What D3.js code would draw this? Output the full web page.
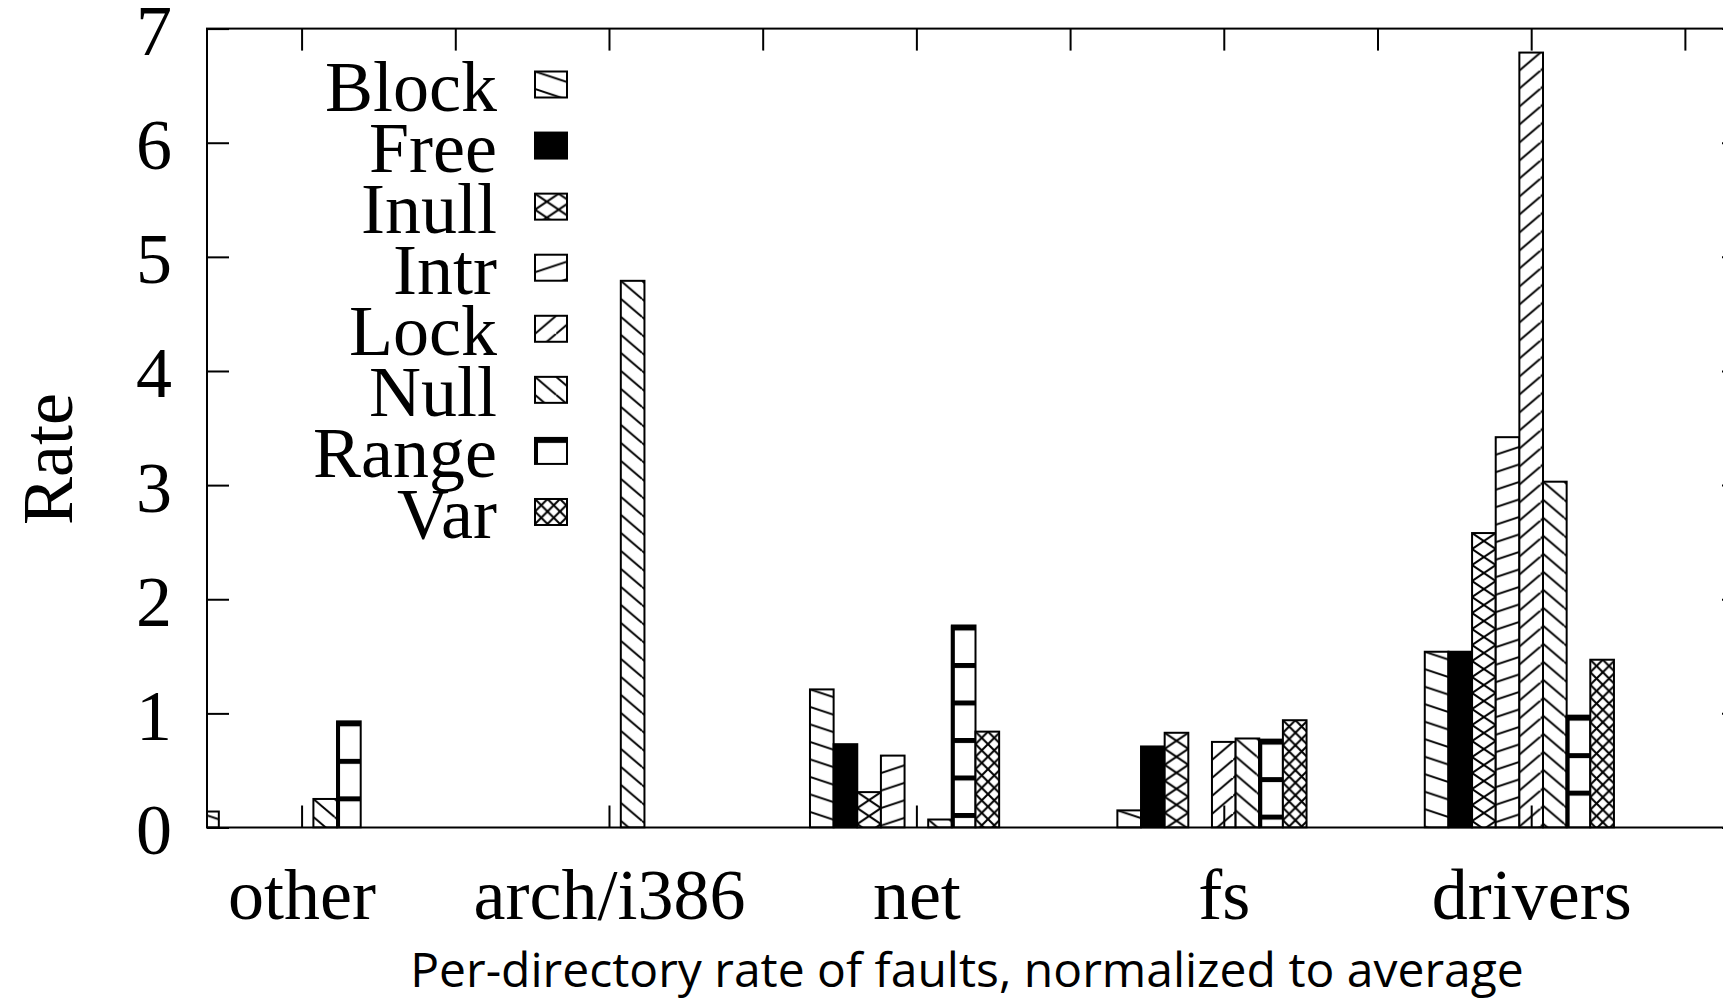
<!DOCTYPE html>
<html>
<head>
<meta charset="utf-8">
<script src="https://cdn.jsdelivr.net/npm/d3@7"></script>
<style>
  html, body { margin: 0; padding: 0; background: #fff; }
  svg { display: block; }
</style>
</head>
<body>
<svg id="chart" width="1723" height="1003"></svg>
<script>
// ---------------- data ----------------
const categories = ["other", "arch/i386", "net", "fs", "drivers"];
const seriesNames = ["Block", "Free", "Inull", "Intr", "Lock", "Null", "Range", "Var"];
const blockValues = [0.14, 0, 1.21, 0.15, 1.54];
const freeValues  = [0, 0, 0.73, 0.71, 1.54];
const inullValues = [0, 0, 0.31, 0.83, 2.58];
const intrValues  = [0, 0, 0.63, 0, 3.42];
const lockValues  = [0, 0, 0, 0.75, 6.79];
const nullValues  = [0.25, 4.79, 0.07, 0.78, 3.03];
const rangeValues = [0.93, 0, 1.77, 0.77, 0.98];
const varValues   = [0, 0, 0.84, 0.94, 1.47];
const yTicks = [0, 1, 2, 3, 4, 5, 6, 7];
const yLabel = "Rate";
const xTitle = "Per-directory rate of faults, normalized to average";

const seriesValues = [blockValues, freeValues, inullValues, intrValues,
                      lockValues, nullValues, rangeValues, varValues];

// ---------------- layout ----------------
const svg = d3.select("#chart");
const L = 207, R = 1744, T = 28.6, B = 827.5;
const stride = seriesNames.length + 5; // bars per group incl. gap
const x = d3.scaleLinear().domain([0, stride * categories.length]).range([L, R]);
const y = d3.scaleLinear().domain([0, 7]).range([B, T]);
const bw = x(1) - x(0);
const serif = "'Liberation Serif', 'Times New Roman', serif";

const defs = svg.append("defs");
defs.append("clipPath").attr("id", "plotclip")
  .append("rect").attr("x", L).attr("y", T - 1).attr("width", R - L).attr("height", B - T + 2);

// pattern builder
function lineFamily(g, s, d, dir) {
  // dir = +1 descending "\" , -1 ascending "/"
  const Wt = d / s;
  for (let k = -1; k <= 1; k++) {
    const y0 = k * d;
    g.append("line")
      .attr("x1", 0).attr("y1", y0)
      .attr("x2", Wt).attr("y2", y0 + dir * d)
      .attr("stroke", "#000").attr("stroke-width", 2);
  }
}
const patSpec = {
  Block: { w: 17.5 / 0.33, h: 17.5, draw: g => lineFamily(g, 0.33, 17.5, 1) },
  Free:  null,
  Inull: { w: bw, h: 16, draw: g => { lineFamily(g, 16 / bw, 16, 1); lineFamily(g, 16 / bw, 16, -1); } },
  Intr:  { w: 17.5 / 0.33, h: 17.5, draw: g => lineFamily(g, 0.33, 17.5, -1) },
  Lock:  { w: 18 / 0.85, h: 18, draw: g => lineFamily(g, 0.85, 18, -1) },
  Null:  { w: 18 / 0.85, h: 18, draw: g => lineFamily(g, 0.85, 18, 1) },
  Range: { w: 40, h: 37.5, draw: g => {
            g.append("rect").attr("x", 0).attr("y", 0).attr("width", 40).attr("height", 5).attr("fill", "#000");
          } },
  Var:   { w: 12.5, h: 12.5, draw: g => { lineFamily(g, 1, 12.5, 1); lineFamily(g, 1, 12.5, -1); } }
};
let patCount = 0;
function makePattern(name, ax, ay) {
  const spec = patSpec[name];
  if (!spec) return "#000";
  const id = "pat" + (patCount++);
  const p = defs.append("pattern").attr("id", id)
    .attr("patternUnits", "userSpaceOnUse")
    .attr("x", ax).attr("y", ay).attr("width", spec.w).attr("height", spec.h);
  p.append("rect").attr("width", spec.w).attr("height", spec.h).attr("fill", "#fff");
  spec.draw(p);
  return "url(#" + id + ")";
}

// ---------------- bars ----------------
const barData = [];
seriesNames.forEach((name, j) => {
  seriesValues[j].forEach((v, i) => {
    barData.push({ name, j, i, v, c: stride * i + j });
  });
});

const plot = svg.append("g").attr("clip-path", "url(#plotclip)");
plot.selectAll("g.bar").data(barData).join("g").attr("class", "bar").each(function (d) {
  const g = d3.select(this);
  const bx = x(d.c - 0.5), by = y(d.v), bh = y(0) - y(d.v);
  g.append("rect")
    .attr("x", bx).attr("y", by).attr("width", bw).attr("height", bh)
    .attr("fill", makePattern(d.name, bx, by))
    .attr("stroke", "#000").attr("stroke-width", 2);
  if (d.name === "Range" && bh > 0) {
    g.append("line").attr("x1", bx + 1).attr("x2", bx + 1).attr("y1", by).attr("y2", y(0))
      .attr("stroke", "#000").attr("stroke-width", 4);
  }
});

// ---------------- axes ----------------
const groupTicks = categories.map((c, i) => stride * i + 4);
const xAxis = d3.axisBottom(x)
  .tickValues(groupTicks)
  .tickFormat((d, i) => categories[i])
  .tickSize(-22).tickPadding(40);
const gx = svg.append("g").attr("transform", `translate(0,${B})`).call(xAxis);
gx.select(".domain").remove();
gx.selectAll(".tick line").attr("stroke", "#000").attr("stroke-width", 2);
gx.selectAll(".tick text").attr("font-family", serif).attr("font-size", 72).attr("fill", "#000");

const halfTicks = d3.range(4, stride * categories.length, stride / 2);
const xTop = d3.axisTop(x).tickValues(halfTicks).tickFormat("").tickSize(-22);
const gxt = svg.append("g").attr("transform", `translate(0,${T})`).call(xTop);
gxt.select(".domain").remove();
gxt.selectAll(".tick line").attr("stroke", "#000").attr("stroke-width", 2);

const yAxis = d3.axisLeft(y).tickValues(yTicks).tickFormat(d3.format("d")).tickSize(-22).tickPadding(35);
const gy = svg.append("g").attr("transform", `translate(${L},0)`).call(yAxis);
gy.select(".domain").remove();
gy.selectAll(".tick line").attr("stroke", "#000").attr("stroke-width", 2);
gy.selectAll(".tick text").attr("font-family", serif).attr("font-size", 72).attr("fill", "#000").attr("dy", "0.36em");

const yRight = d3.axisRight(y).tickValues(yTicks).tickFormat("").tickSize(-22);
const gyr = svg.append("g").attr("transform", `translate(${R},0)`).call(yRight);
gyr.select(".domain").remove();
gyr.selectAll(".tick line").attr("stroke", "#000").attr("stroke-width", 2);

// frame
svg.append("rect").attr("x", L).attr("y", T).attr("width", R - L).attr("height", B - T)
  .attr("fill", "none").attr("stroke", "#000").attr("stroke-width", 2);

// axis titles
svg.append("text")
  .attr("transform", `translate(72,459) rotate(-90)`)
  .attr("text-anchor", "middle")
  .attr("font-family", serif).attr("font-size", 72).attr("fill", "#000")
  .text(yLabel);

svg.append("text")
  .attr("x", 967).attr("y", 987)
  .attr("text-anchor", "middle")
  .attr("font-family", "'Open Sans', 'Noto Sans', sans-serif").attr("font-size", 48).attr("fill", "#000")
  .text(xTitle);

// ---------------- legend ----------------
const legend = svg.append("g");
seriesNames.forEach((name, k) => {
  const cy = 84.5 + 61.07 * k;
  legend.append("text")
    .attr("x", 497).attr("y", cy + 26)
    .attr("text-anchor", "end")
    .attr("font-family", serif).attr("font-size", 72).attr("fill", "#000")
    .text(name);
  const bx = 535, by = cy - 13;
  legend.append("rect")
    .attr("x", bx).attr("y", by).attr("width", 32).attr("height", 26)
    .attr("fill", makePattern(name, bx, by))
    .attr("stroke", "#000").attr("stroke-width", 2);
  if (name === "Range") {
    legend.append("line").attr("x1", bx + 1).attr("x2", bx + 1).attr("y1", by).attr("y2", by + 26)
      .attr("stroke", "#000").attr("stroke-width", 4);
  }
});
</script>
</body>
</html>
